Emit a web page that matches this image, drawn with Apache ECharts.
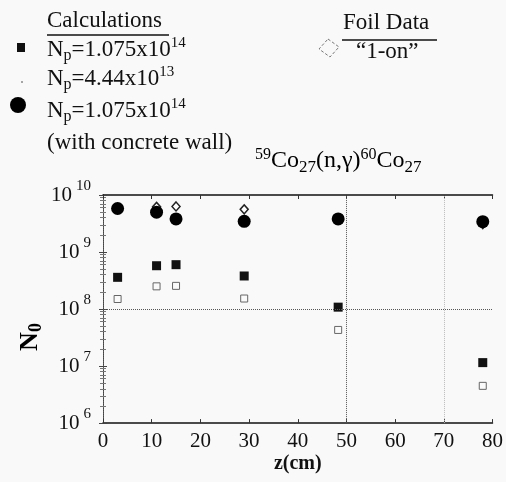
<!DOCTYPE html>
<html>
<head>
<meta charset="utf-8">
<script src="https://cdn.jsdelivr.net/npm/echarts@6/dist/echarts.min.js"></script>
<style>
  html, body { margin: 0; padding: 0; background: #f8f9f8; }
  #main { width: 506px; height: 482px; }
</style>
</head>
<body>
<div id="main"></div>
<script>
var myChart = echarts.init(document.getElementById('main'));

// z positions (cm)
var zCalc = [3, 11, 15, 29, 48.3, 78];
var zFoil = [11, 15, 29, 78];
// N0 values
var calcNp1 = [3.6e8, 5.75e8, 6.0e8, 3.8e8, 1.08e8, 1.15e7];   // Np=1.075x10^14
var calcNp2 = [1.5e8, 2.5e8, 2.55e8, 1.53e8, 4.3e7, 4.5e6];     // Np=4.44x10^13
var calcWall = [5.8e9, 5.0e9, 3.8e9, 3.45e9, 3.8e9, 3.4e9];     // with concrete wall
var foilData = [6.2e9, 6.3e9, 5.6e9, 3.1e9];                    // "1-on"
var xTicks = [0, 10, 20, 30, 40, 50, 60, 70, 80];

var serif = "'Liberation Serif', 'Times New Roman', serif";

function pairs(xs, ys) {
    return xs.map(function (x, i) { return [x, ys[i]]; });
}

// 上下标用的rich样式
var richTxt = {
    n: { fontSize: 23, fontFamily: serif, color: '#111' },
    sub: { fontSize: 16, fontFamily: serif, color: '#111', padding: [13, 0, 0, 0] },
    sup: { fontSize: 15, fontFamily: serif, color: '#111', padding: [0, 0, 12, 0] }
};

function legendText(x, y, text) {
    return {
        type: 'text', left: x, top: y, silent: true,
        style: { text: text, rich: richTxt, fill: '#111' }
    };
}

var options = {
    backgroundColor: '#f8f9f8',
    animation: false,
    grid: { left: 103, right: 9, top: 195, bottom: 45 },
    graphic: [
        legendText(47, 9, '{n|Calculations}'),
        { type: 'line', silent: true, shape: { x1: 47, y1: 35, x2: 169, y2: 35 }, style: { stroke: '#111', lineWidth: 1.5 } },
        legendText(47, 36, '{n|N}{sub|p}{n|=1.075x10}{sup|14}'),
        legendText(47, 65, '{n|N}{sub|p}{n|=4.44x10}{sup|13}'),
        legendText(47, 97, '{n|N}{sub|p}{n|=1.075x10}{sup|14}'),
        legendText(47, 131, '{n|(with concrete wall)}'),
        { type: 'rect', silent: true, shape: { x: 17, y: 43, width: 8, height: 9 }, style: { fill: '#111' } },
        { type: 'circle', silent: true, shape: { cx: 22, cy: 82, r: 1 }, style: { fill: '#888' } },
        { type: 'circle', silent: true, shape: { cx: 18, cy: 105, r: 8 }, style: { fill: '#000' } },
        legendText(343, 11, '{n|Foil Data}'),
        { type: 'line', silent: true, shape: { x1: 342, y1: 40, x2: 437, y2: 40 }, style: { stroke: '#111', lineWidth: 1.5 } },
        legendText(356, 40, '{n|\u201c1-on\u201d}'),
        { type: 'polygon', silent: true, shape: { points: [[328, 39], [339, 47], [330, 57], [319, 49]] },
          style: { fill: 'none', stroke: '#777', lineWidth: 1, lineDash: [3, 2] } },
        {
            type: 'text', left: 255, top: 147, silent: true,
            style: {
                text: '{sup|59}{n|Co}{sub|27}{n|(n,\u03b3)}{sup|60}{n|Co}{sub|27}',
                rich: {
                    n: { fontSize: 24, fontFamily: serif, color: '#111' },
                    sub: { fontSize: 17, fontFamily: serif, color: '#111', padding: [13, 0, 0, 0] },
                    sup: { fontSize: 16, fontFamily: serif, color: '#111', padding: [0, 0, 12, 0] }
                }
            }
        },
        {
            type: 'text', x: 30, y: 337, rotation: Math.PI / 2, silent: true,
            style: {
                text: '{b|N}{s|0}', align: 'center', verticalAlign: 'middle',
                rich: {
                    b: { fontFamily: serif, fontSize: 26, fontWeight: 'bold', color: '#111' },
                    s: { fontFamily: serif, fontSize: 18, fontWeight: 'bold', color: '#111', padding: [12, 0, 0, 0] }
                }
            }
        }
    ],
    xAxis: [{
        type: 'value', min: 0, max: 80, interval: 10,
        name: 'z(cm)', nameLocation: 'middle', nameGap: 31,
        nameTextStyle: { fontFamily: serif, fontSize: 20, fontWeight: 'bold', color: '#111' },
        axisLine: { lineStyle: { color: '#111', width: 1.5 } },
        axisTick: { inside: true, length: 4, lineStyle: { color: '#333' } },
        axisLabel: { fontFamily: serif, fontSize: 21, color: '#111', margin: 8,
            formatter: function (v) { return xTicks.indexOf(v) >= 0 ? String(v) : ''; } },
        splitLine: { show: false }
    }, {
        type: 'value', min: 0, max: 80, interval: 10, position: 'top',
        axisLine: { show: true, lineStyle: { color: '#111', width: 1.5 } },
        axisTick: { show: true, inside: true, length: 4, lineStyle: { color: '#333' } },
        axisLabel: { show: false },
        splitLine: { show: false }
    }],
    yAxis: [{
        type: 'log', logBase: 10, min: 1e6, max: 1e10,
        axisLine: { show: true, lineStyle: { color: '#444', width: 1, type: 'dotted' } },
        axisTick: { inside: true, length: 4, lineStyle: { color: '#444' } },
        minorTick: { show: true, splitNumber: 9, length: 3, lineStyle: { color: '#777' } },
        axisLabel: {
            margin: 12,
            formatter: function (v) {
                var e = Math.round(Math.log10(v));
                return '{b|10}{s|' + e + '}';
            },
            rich: {
                b: { fontFamily: serif, fontSize: 21, color: '#111' },
                s: { fontFamily: serif, fontSize: 15, color: '#111', padding: [0, 0, 18, 4] }
            }
        },
        splitLine: { show: false }
    }, {
        type: 'log', logBase: 10, min: 1e6, max: 1e10, position: 'right',
        axisLine: { show: true, lineStyle: { color: '#444', width: 1, type: 'dotted' } },
        axisTick: { show: true, inside: true, length: 4, lineStyle: { color: '#444' } },
        minorTick: { show: true, splitNumber: 9, length: 3, lineStyle: { color: '#777' } },
        axisLabel: { show: false },
        splitLine: { show: false }
    }],
    series: [{
        name: 'grid', type: 'scatter', data: [], silent: true,
        markLine: {
            silent: true, symbol: 'none', label: { show: false },
            lineStyle: { color: '#555', type: 'dotted', width: 1 },
            data: [
                { xAxis: 50 },
                { yAxis: 1e8 },
                { xAxis: 70, lineStyle: { color: '#bbb', type: 'dotted', width: 1 } }
            ]
        }
    }, {
        name: 'Np=4.44x10^13', type: 'scatter', data: pairs(zCalc, calcNp2),
        symbol: 'rect', symbolSize: 7,
        itemStyle: { color: '#fafafa', borderColor: '#666', borderWidth: 1, opacity: 1 }
    }, {
        name: 'Foil Data', type: 'scatter', data: pairs(zFoil, foilData),
        symbol: 'diamond', symbolSize: [8, 9],
        itemStyle: { color: '#fff', borderColor: '#222', borderWidth: 1.5, opacity: 1 }
    }, {
        name: 'Np=1.075x10^14', type: 'scatter', data: pairs(zCalc, calcNp1),
        symbol: 'rect', symbolSize: 9,
        itemStyle: { color: '#111', opacity: 1 }
    }, {
        name: 'with concrete wall', type: 'scatter', data: pairs(zCalc, calcWall),
        symbol: 'circle', symbolSize: 13,
        itemStyle: { color: '#000', opacity: 1 }
    }]
};
myChart.setOption(options);
</script>
</body>
</html>
